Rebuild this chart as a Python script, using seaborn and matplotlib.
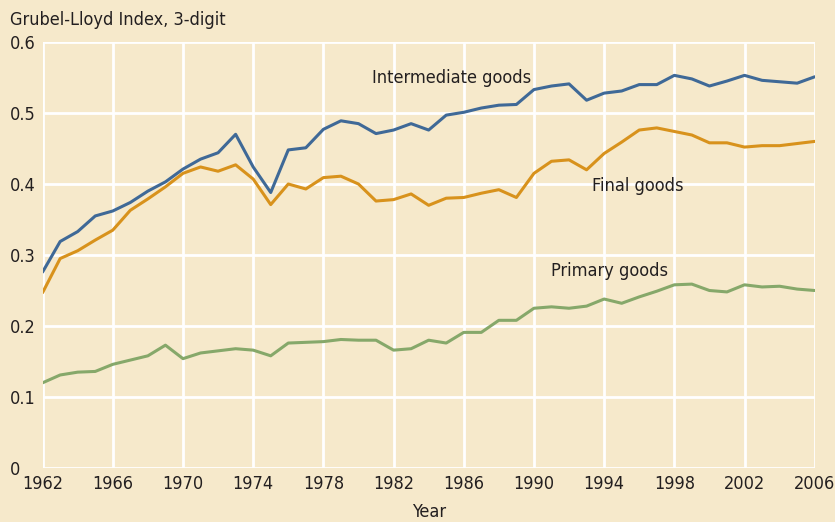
import numpy as np
import pandas as pd
import matplotlib.pyplot as plt
import seaborn as sns

# Data
years = list(range(1962, 2007))

intermediate = [
    0.276, 0.319, 0.333, 0.355, 0.362, 0.374, 0.390, 0.403, 0.421, 0.435,
    0.444, 0.470, 0.424, 0.388, 0.448, 0.451, 0.477, 0.489, 0.485, 0.471,
    0.476, 0.485, 0.476, 0.497, 0.501, 0.507, 0.511, 0.512, 0.533, 0.538,
    0.541, 0.518, 0.528, 0.531, 0.540, 0.540, 0.553, 0.548, 0.538, 0.545,
    0.553, 0.546, 0.544, 0.542, 0.551
]

final = [
    0.247, 0.295, 0.306, 0.321, 0.335, 0.363, 0.379, 0.396, 0.415, 0.424,
    0.418, 0.427, 0.407, 0.371, 0.400, 0.393, 0.409, 0.411, 0.400, 0.376,
    0.378, 0.386, 0.370, 0.380, 0.381, 0.387, 0.392, 0.381, 0.415, 0.432,
    0.434, 0.420, 0.443, 0.459, 0.476, 0.479, 0.474, 0.469, 0.458, 0.458,
    0.452, 0.454, 0.454, 0.457, 0.460
]

primary = [
    0.120, 0.131, 0.135, 0.136, 0.146, 0.152, 0.158, 0.173, 0.154, 0.162,
    0.165, 0.168, 0.166, 0.158, 0.176, 0.177, 0.178, 0.181, 0.180, 0.180,
    0.166, 0.168, 0.180, 0.176, 0.191, 0.191, 0.208, 0.208, 0.225, 0.227,
    0.225, 0.228, 0.238, 0.232, 0.241, 0.249, 0.258, 0.259, 0.250, 0.248,
    0.258, 0.255, 0.256, 0.252, 0.250
]

series_names = ["Intermediate goods", "Final goods", "Primary goods"]
x_ticks = list(range(1962, 2007, 4))
y_ticks = [0, 0.1, 0.2, 0.3, 0.4, 0.5, 0.6]
y_tick_labels = ["0", "0.1", "0.2", "0.3", "0.4", "0.5", "0.6"]

df = pd.DataFrame({
    "Year": years * 3,
    "Index": intermediate + final + primary,
    "Series": [series_names[0]] * len(years)
              + [series_names[1]] * len(years)
              + [series_names[2]] * len(years),
})

bg = "#f6e9cb"
ink = "#231f20"
palette = {
    "Intermediate goods": "#3f6997",
    "Final goods": "#d8921c",
    "Primary goods": "#86a86a",
}

sns.set_style("white")
plt.rcParams['font.family'] = ['DejaVu Sans']
plt.rcParams['font.stretch'] = 'condensed'

fs = 13

fig = plt.figure(figsize=(8.35, 5.22), dpi=100, facecolor=bg)
ax = fig.add_axes([42.6 / 835, 1 - 468 / 522, (814.7 - 42.6) / 835, (468 - 42) / 522])
ax.set_facecolor(bg)

sns.lineplot(
    data=df,
    x="Year",
    y="Index",
    hue="Series",
    palette=palette,
    linewidth=2.2,
    legend=False,
    ax=ax
)

ax.set_xlim(1962, 2006)
ax.set_ylim(0, 0.6)
ax.set_xticks(x_ticks)
ax.set_yticks(y_ticks)
ax.set_yticklabels(y_tick_labels)

ax.grid(True, color="white", linewidth=2)
ax.set_axisbelow(True)
for s in ax.spines.values():
    s.set_visible(False)

ax.tick_params(axis="both", length=0, labelsize=fs, colors=ink)
ax.tick_params(axis="x", pad=5)
ax.tick_params(axis="y", pad=23.5)
for lbl in ax.get_yticklabels():
    lbl.set_horizontalalignment("left")

ax.set_xlabel("Year", fontsize=fs, color=ink, labelpad=7)
ax.set_ylabel("")
fig.text(10 / 835, 1 - 20 / 522, "Grubel-Lloyd Index, 3-digit",
         fontsize=fs, color=ink, va="center", ha="left")

# Series labels
ax.text(1980.8, 0.549, "Intermediate goods", fontsize=fs, color=ink, va="center")
ax.text(1993.3, 0.397, "Final goods", fontsize=fs, color=ink, va="center")
ax.text(1991.0, 0.277, "Primary goods", fontsize=fs, color=ink, va="center")

plt.savefig("out.png", dpi=100, facecolor=bg)
